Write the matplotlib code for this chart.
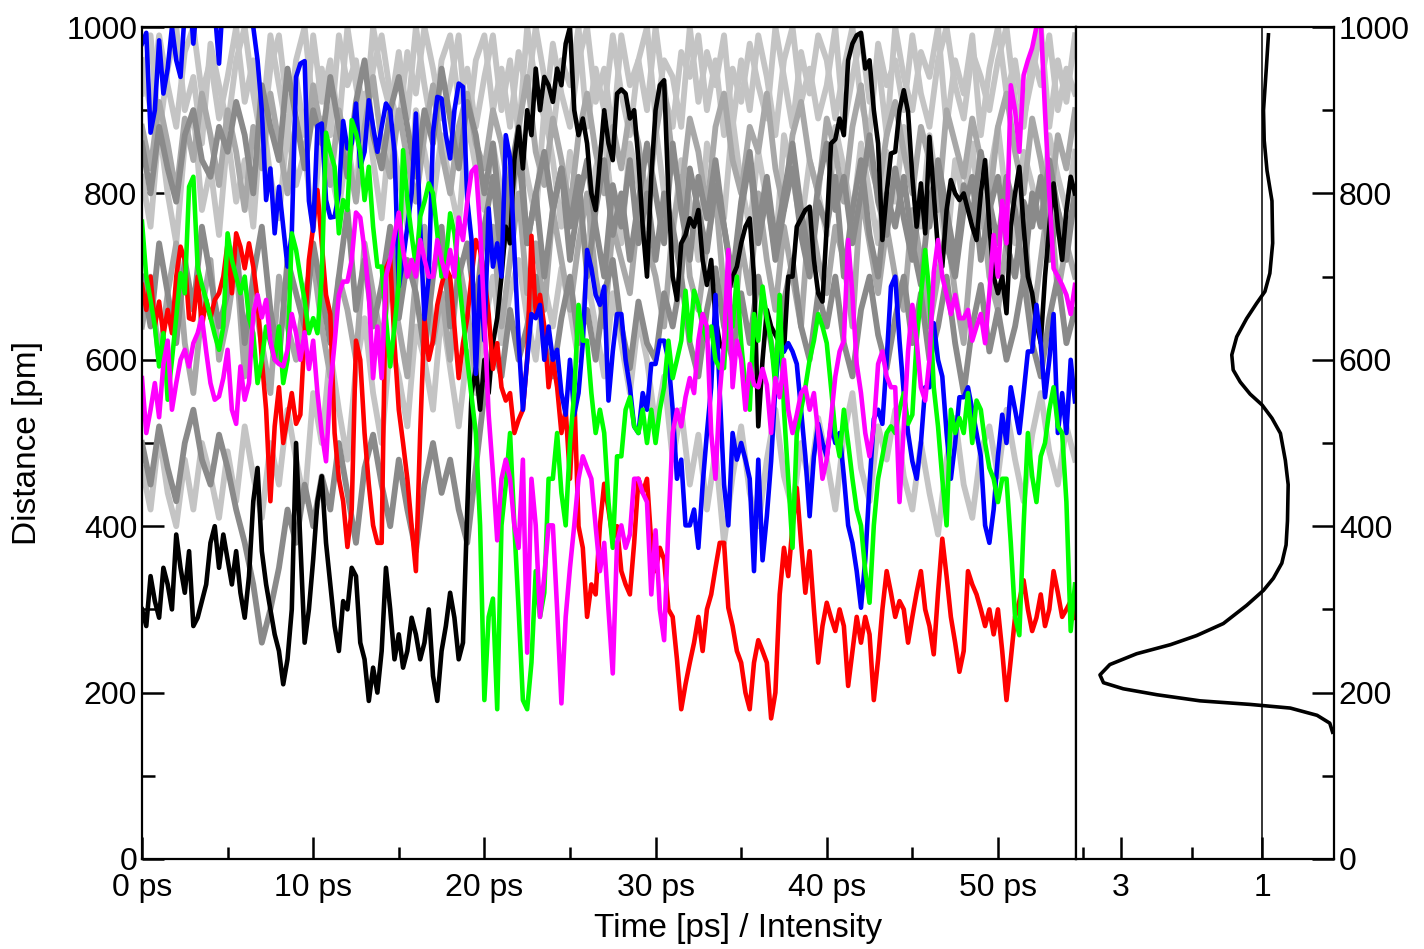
import numpy as np
import matplotlib
matplotlib.use("Agg")
import matplotlib.pyplot as plt
from matplotlib.ticker import MultipleLocator, FixedLocator

plt.rcParams['font.family'] = ['Liberation Sans', 'DejaVu Sans']

# time grid of the coloured traces (ps), 0.25 ps steps
t_fine = np.arange(219) * 0.25
# time grid of the grey traces (ps), 0.5 ps steps
t_coarse = np.arange(110) * 0.5

black = [300, 280, 340, 310, 290, 350, 330, 300,
         390, 350, 320, 370, 280, 290, 310, 330,
         380, 400, 350, 390, 360, 330, 370, 320,
         290, 340, 430, 470, 370, 330, 300, 270,
         250, 210, 240, 300, 500, 380, 260, 300,
         360, 430, 460, 380, 330, 280, 250, 310,
         300, 350, 340, 260, 240, 190, 230, 200,
         250, 350, 300, 240, 270, 230, 250, 290,
         270, 240, 260, 300, 220, 190, 250, 280,
         320, 290, 240, 260, 420, 560, 590, 540,
         600, 560, 620, 650, 700, 760, 740, 840,
         880, 830, 900, 870, 950, 900, 940, 930,
         910, 950, 930, 980, 1000, 900, 870, 890,
         860, 800, 780, 840, 900, 860, 840, 920,
         925, 920, 890, 900, 840, 760, 700, 820,
         900, 930, 936, 800, 700, 672, 740, 750,
         770, 760, 780, 720, 690, 720, 650, 620,
         612, 680, 700, 712, 740, 760, 770, 700,
         520, 600, 660, 640, 630, 620, 610, 700,
         700, 760, 770, 780, 784, 720, 680, 670,
         760, 860, 865, 890, 870, 960, 980, 990,
         993, 950, 960, 900, 860, 744, 800, 848,
         850, 900, 924, 898, 820, 760, 812, 752,
         868, 800, 732, 712, 780, 816, 800, 792,
         800, 780, 760, 744, 800, 840, 760, 700,
         680, 700, 656, 760, 800, 832, 760, 700,
         680, 644, 620, 700, 760, 812, 760, 720,
         780, 820, 800]

red = [690, 660, 700, 640, 670, 630, 660, 632,
       700, 736, 720, 650, 648, 700, 640, 672,
       650, 672, 680, 700, 740, 680, 752, 736,
       710, 740, 712, 672, 600, 540, 430, 520,
       567, 500, 530, 560, 523, 534, 633, 720,
       760, 804, 740, 678, 655, 512, 457, 430,
       375, 420, 623, 600, 512, 450, 401, 380,
       380, 710, 721, 620, 540, 500, 457, 400,
       346, 512, 650, 600, 623, 666, 690, 710,
       700, 640, 578, 620, 650, 700, 744, 732,
       700, 655, 589, 620, 567, 551, 560, 512,
       528, 540, 600, 749, 655, 678, 640, 567,
       600, 567, 512, 540, 457, 560, 400, 374,
       291, 330, 318, 401, 451, 420, 385, 400,
       346, 330, 318, 380, 457, 440, 457, 380,
       346, 374, 360, 300, 291, 240, 180, 210,
       236, 260, 291, 250, 300, 318, 350, 380,
       380, 302, 280, 250, 236, 200, 180, 236,
       263, 250, 236, 169, 200, 318, 374, 340,
       400, 446, 380, 320, 370, 300, 236, 280,
       308, 290, 274, 300, 280, 208, 250, 291,
       260, 291, 270, 191, 240, 300, 346, 320,
       291, 310, 300, 260, 291, 320, 346, 300,
       280, 246, 320, 385, 340, 291, 260, 225,
       250, 346, 330, 318, 300, 280, 300, 270,
       300, 250, 191, 240, 291, 310, 335, 300,
       274, 290, 318, 280, 300, 346, 320, 291,
       300, 310, 290]

blue = [980, 993, 873, 900, 984, 920, 950, 1000,
        960, 940, 1020, 1050, 980, 1040, 1060, 1030,
        1050, 1020, 956, 1040, 1070, 1060, 1040, 1050,
        1060, 1040, 1000, 960, 900, 792, 830, 752,
        808, 760, 712, 752, 940, 956, 959, 791,
        755, 881, 884, 792, 771, 772, 800, 887,
        854, 860, 908, 832, 850, 912, 880, 850,
        880, 908, 900, 850, 688, 720, 760, 800,
        896, 760, 649, 700, 873, 916, 914, 870,
        842, 900, 932, 928, 792, 744, 583, 700,
        623, 782, 712, 740, 700, 870, 842, 732,
        623, 540, 600, 655, 650, 666, 600, 640,
        600, 612, 560, 534, 600, 534, 560, 620,
        732, 710, 678, 666, 688, 551, 610, 655,
        655, 600, 567, 520, 512, 560, 540, 595,
        595, 623, 623, 600, 540, 457, 480, 401,
        401, 420, 374, 450, 512, 567, 678, 560,
        450, 401, 512, 480, 500, 480, 457, 346,
        480, 359, 412, 478, 567, 623, 610, 620,
        610, 595, 540, 484, 412, 484, 523, 500,
        484, 523, 500, 512, 460, 401, 380, 346,
        302, 360, 450, 529, 540, 523, 600, 688,
        700, 623, 560, 512, 478, 457, 500, 567,
        567, 644, 600, 580, 512, 457, 500, 555,
        555, 567, 540, 512, 484, 401, 380, 420,
        484, 534, 500, 567, 540, 512, 560, 610,
        610, 666, 620, 555, 600, 655, 512, 560,
        512, 600, 550]

green = [766, 700, 672, 640, 592, 632, 552, 600,
         651, 704, 680, 808, 820, 712, 690, 672,
         651, 630, 612, 640, 752, 720, 700, 680,
         700, 650, 632, 572, 600, 640, 620, 600,
         640, 572, 600, 752, 732, 700, 672, 632,
         650, 632, 700, 873, 850, 832, 752, 792,
         780, 888, 873, 850, 792, 832, 760, 712,
         712, 650, 592, 640, 692, 852, 792, 750,
         712, 772, 790, 812, 800, 752, 700, 720,
         776, 752, 700, 651, 600, 556, 512, 401,
         191, 291, 313, 180, 401, 450, 512, 401,
         300, 191, 180, 236, 346, 291, 320, 457,
         457, 512, 440, 401, 500, 560, 666, 623,
         623, 560, 512, 540, 512, 429, 374, 484,
         484, 540, 555, 520, 512, 540, 500, 540,
         500, 540, 567, 623, 578, 600, 623, 683,
         623, 683, 666, 640, 623, 640, 600, 590,
         590, 680, 640, 700, 620, 567, 540, 655,
         623, 688, 650, 623, 567, 678, 540, 457,
         374, 512, 540, 567, 600, 623, 655, 640,
         620, 567, 512, 484, 540, 500, 457, 420,
         401, 346, 308, 401, 457, 484, 512, 520,
         512, 540, 560, 523, 534, 623, 678, 732,
         678, 567, 520, 457, 401, 540, 512, 530,
         512, 560, 500, 551, 540, 500, 470, 457,
         429, 457, 457, 380, 291, 269, 401, 512,
         460, 429, 484, 500, 540, 567, 520, 512,
         429, 274, 330]

magenta = [578, 512, 540, 572, 531, 595, 623, 540,
           572, 600, 612, 592, 620, 632, 651, 610,
           572, 552, 556, 578, 612, 540, 523, 592,
           552, 572, 655, 678, 651, 672, 623, 600,
           595, 592, 612, 655, 632, 600, 633, 589,
           623, 560, 512, 478, 567, 620, 678, 694,
           694, 720, 777, 771, 732, 678, 578, 640,
           578, 700, 721, 750, 777, 732, 700, 720,
           700, 744, 721, 700, 700, 744, 720, 700,
           732, 700, 771, 744, 790, 826, 832, 760,
           650, 534, 464, 383, 457, 480, 457, 401,
           374, 480, 248, 457, 401, 291, 340, 401,
           401, 300, 187, 291, 350, 401, 457, 484,
           470, 457, 400, 346, 380, 300, 223, 380,
           401, 374, 390, 457, 457, 440, 429, 318,
           395, 300, 263, 400, 512, 540, 520, 555,
           578, 560, 623, 655, 640, 512, 457, 560,
           620, 732, 567, 623, 600, 540, 595, 570,
           567, 589, 570, 512, 578, 555, 600, 540,
           512, 534, 560, 567, 540, 560, 512, 457,
           480, 529, 580, 610, 623, 744, 678, 595,
           560, 512, 484, 520, 595, 610, 580, 567,
           567, 429, 520, 610, 666, 623, 567, 551,
           600, 705, 744, 700, 678, 655, 678, 650,
           650, 660, 623, 640, 655, 620, 680, 750,
           700, 791, 740, 930, 900, 850, 942, 960,
           975, 1000, 1010, 898, 799, 710, 700, 690,
           678, 655, 690]

grey_light_top = [960, 900, 990, 930, 880, 970, 1000, 920, 960, 890,
                  940, 1000, 910, 960, 880, 990, 930, 870, 960, 1000,
                  900, 950, 870, 990, 930, 960, 880, 1000, 940, 900,
                  970, 890, 1000, 930, 870, 960, 990, 910, 950, 880,
                  940, 990, 900, 960, 870, 1000, 930, 890, 980, 920,
                  880, 960, 1000, 910, 950, 870, 990, 930, 960, 900,
                  1000, 920, 880, 970, 940, 990, 900, 960, 870, 950,
                  910, 980, 930, 890, 1000, 940, 880, 970, 920, 990,
                  960, 890, 950, 1000, 910, 870, 980, 930, 960, 900,
                  990, 920, 880, 960, 1000, 930, 890, 970, 940, 900,
                  960, 1000, 910, 880, 970, 930, 990, 900, 950, 920]

grey_light_top2 = [920, 990, 870, 950, 1000, 900, 940, 860, 980, 930,
                   880, 960, 1000, 920, 860, 950, 990, 900, 940, 870,
                   990, 910, 960, 880, 1000, 930, 870, 950, 990, 920,
                   880, 970, 920, 1000, 950, 890, 930, 990, 870, 960,
                   990, 900, 950, 880, 970, 920, 1000, 940, 870, 960,
                   930, 1000, 880, 950, 900, 990, 920, 870, 960, 1000,
                   890, 960, 940, 880, 1000, 910, 970, 930, 990, 880,
                   960, 900, 990, 940, 870, 960, 1000, 910, 950, 890,
                   930, 1000, 880, 940, 990, 910, 960, 870, 1000, 940,
                   900, 970, 940, 1000, 880, 960, 920, 990, 870, 950,
                   1000, 920, 960, 890, 940, 1000, 880, 960, 910, 990]

grey_light_mid = [820, 760, 880, 800, 740, 860, 900, 780, 830, 750,
                  870, 790, 840, 760, 900, 820, 770, 880, 810, 850,
                  760, 890, 830, 780, 860, 800, 920, 840, 770, 880,
                  820, 760, 900, 850, 790, 870, 810, 760, 890, 830,
                  780, 860, 800, 740, 880, 820, 770, 900, 840, 760,
                  850, 790, 720, 830, 870, 780, 740, 860, 810, 760,
                  880, 800, 750, 840, 790, 720, 860, 820, 770, 890,
                  810, 760, 850, 790, 730, 870, 820, 760, 840, 800,
                  750, 880, 830, 770, 860, 800, 740, 850, 790, 880,
                  820, 760, 870, 800, 730, 840, 790, 860, 760, 820,
                  880, 790, 740, 850, 810, 760, 870, 820, 780, 850]

grey_light_low = [470, 420, 510, 440, 400, 480, 420, 500, 460, 410,
                  490, 430, 520, 460, 410, 500, 450, 540, 480, 430,
                  560, 500, 610, 540, 480, 590, 650, 560, 500, 620,
                  580, 520, 640, 600, 540, 660, 590, 520, 610, 560,
                  640, 700, 620, 680, 720, 650, 600, 690, 640, 710,
                  660, 600, 700, 640, 580, 680, 620, 560, 650, 600,
                  520, 580, 480, 540, 450, 510, 420, 490, 380, 460,
                  520, 440, 400, 480, 540, 460, 420, 500, 450, 530,
                  480, 420, 510, 560, 470, 430, 520, 480, 540, 460,
                  420, 500, 440, 390, 480, 530, 450, 410, 490, 520,
                  460, 540, 480, 430, 510, 560, 490, 450, 520, 480]

grey_mid = [880, 830, 910, 860, 800, 890, 840, 920, 870, 810,
            900, 850, 780, 880, 830, 920, 860, 800, 890, 840,
            930, 870, 810, 900, 850, 790, 880, 940, 860, 820,
            900, 840, 790, 870, 930, 850, 800, 880, 920, 860,
            830, 900, 860, 790, 880, 940, 850, 810, 890, 840,
            780, 870, 920, 850, 800, 880, 830, 900, 860, 790,
            870, 930, 840, 800, 890, 850, 780, 880, 920, 840,
            800, 880, 850, 920, 830, 780, 870, 910, 840, 800,
            890, 850, 790, 880, 930, 840, 800, 870, 910, 850,
            800, 880, 840, 780, 900, 860, 820, 890, 840, 790,
            880, 920, 850, 800, 890, 840, 780, 870, 830, 900]

grey_mid2 = [640, 700, 600, 680, 740, 620, 560, 660, 720, 600,
             650, 720, 580, 680, 620, 560, 700, 640, 600, 680,
             720, 640, 580, 700, 660, 600, 740, 680, 620, 700,
             640, 580, 700, 760, 620, 680, 600, 720, 660, 580,
             700, 760, 640, 720, 800, 680, 740, 660, 780, 720,
             660, 740, 800, 700, 640, 760, 720, 680, 780, 740,
             700, 640, 760, 820, 700, 660, 740, 800, 680, 620,
             740, 680, 800, 720, 660, 760, 700, 640, 780, 720,
             680, 760, 720, 640, 800, 740, 680, 760, 700, 660,
             780, 720, 640, 700, 760, 680, 620, 740, 800, 700,
             660, 740, 700, 780, 640, 720, 800, 680, 740, 700]

grey_dark_top = [860, 800, 880, 830, 790, 870, 900, 840, 820, 880,
                 850, 910, 870, 800, 930, 880, 840, 950, 890, 830,
                 900, 860, 940, 880, 820, 910, 960, 870, 830, 900,
                 940, 880, 820, 900, 860, 950, 890, 830, 910, 870,
                 800, 860, 760, 820, 880, 740, 800, 850, 780, 830,
                 760, 820, 700, 780, 840, 750, 800, 720, 790, 860,
                 800, 740, 860, 780, 720, 820, 770, 840, 760, 700,
                 790, 850, 760, 820, 740, 800, 860, 780, 720, 810,
                 860, 780, 820, 740, 800, 870, 790, 750, 830, 770,
                 720, 800, 760, 840, 780, 720, 810, 770, 850, 790,
                 740, 820, 780, 700, 800, 760, 840, 780, 720, 800]

grey_dark_low = [500, 450, 520, 470, 430, 500, 540, 480, 450, 510,
                 470, 420, 380, 330, 260, 300, 350, 420, 380, 450,
                 400, 460, 420, 500, 440, 380, 470, 510, 450, 400,
                 480, 420, 370, 450, 500, 440, 480, 420, 380, 470,
                 560, 620, 580, 660, 600, 640, 700, 620, 580, 650,
                 700, 620, 660, 600, 680, 720, 640, 590, 670, 620,
                 600, 680, 640, 700, 620, 580, 660, 710, 640, 600,
                 680, 620, 700, 650, 590, 670, 720, 640, 600, 680,
                 640, 700, 620, 580, 660, 700, 630, 590, 650, 700,
                 620, 680, 600, 640, 700, 620, 560, 640, 690, 610,
                 660, 600, 640, 700, 620, 580, 650, 700, 620, 660]

grey_dark_mid = [700, 640, 740, 680, 620, 720, 660, 760, 700, 640,
                 680, 740, 620, 700, 760, 660, 600, 720, 680, 640,
                 740, 680, 620, 700, 780, 660, 720, 640, 690, 760,
                 650, 720, 680, 610, 700, 760, 640, 700, 740, 660,
                 760, 820, 720, 790, 850, 740, 800, 700, 780, 830,
                 720, 790, 840, 760, 700, 810, 760, 840, 740, 800,
                 720, 800, 760, 700, 830, 780, 730, 810, 760, 690,
                 780, 840, 740, 800, 720, 780, 830, 750, 700, 790,
                 760, 820, 700, 780, 840, 750, 700, 800, 760, 820,
                 740, 690, 790, 830, 740, 700, 780, 820, 720, 780,
                 820, 740, 700, 790, 760, 820, 720, 780, 740, 800]

# distribution on the right panel
dist_curve = [990.6, 950.7, 899.9, 863.6, 827.3, 791.0, 740.2, 703.9, 682.1,
              667.6, 649.5, 627.7, 605.9, 587.8, 573.3, 558.8, 545.7, 529.8,
              511.6, 479.0, 449.9, 406.4, 377.4, 355.6, 337.4, 322.9, 304.8,
              283.0, 268.5, 257.6, 246.7, 233.7, 221.3, 211.9, 204.6, 197.4,
              190.1, 185.8, 181.4, 172.7, 163.3, 152.4]
intensity = [0.91, 0.94, 0.98, 0.97, 0.93, 0.86, 0.85, 0.89, 0.96, 1.08,
             1.22, 1.36, 1.43, 1.41, 1.31, 1.17, 1.0, 0.86, 0.74, 0.67,
             0.63, 0.64, 0.66, 0.72, 0.84, 0.98, 1.22, 1.55, 1.93, 2.30,
             2.78, 3.16, 3.30, 3.25, 2.97, 2.49, 1.88, 1.17, 0.60, 0.22,
             0.04, 0.0]

fig = plt.figure(figsize=(14.24, 9.49), dpi=100)
ax = fig.add_axes([142 / 1424, 90 / 949, 934 / 1424, 832 / 949])
ax2 = fig.add_axes([1076 / 1424, 90 / 949, 258 / 1424, 832 / 949])

light, mid, dark = '#c4c4c4', '#a8a8a8', '#8a8a8a'
greys = [(grey_light_top, light), (grey_light_top2, light),
         (grey_light_mid, light), (grey_light_low, light),
         (grey_mid, mid), (grey_mid2, mid),
         (grey_dark_top, dark), (grey_dark_mid, dark), (grey_dark_low, dark)]
for vals, col in greys:
    ax.plot(t_coarse, vals, color=col, lw=4.2)

for vals, col in [(black, 'black'), (red, '#ff0000'), (blue, '#0000ff'),
                  (green, '#00ff00'), (magenta, '#ff00ff')]:
    ax.plot(t_fine, vals, color=col, lw=3.3)

ax.set_xlim(0, 54.56)
ax.set_ylim(0, 1000)
ax.set_xticks([0, 10, 20, 30, 40, 50])
ax.set_xticklabels(['0 ps', '10 ps', '20 ps', '30 ps', '40 ps', '50 ps'])
ax.xaxis.set_minor_locator(MultipleLocator(5))
ax.yaxis.set_major_locator(MultipleLocator(200))
ax.yaxis.set_minor_locator(MultipleLocator(100))
ax.tick_params(axis='x', which='major', pad=10)
ax.tick_params(which='major', direction='in', length=16, width=1.8,
               labelsize=23, top=False, right=False)
ax.tick_params(which='minor', direction='in', length=9, width=1.8,
               top=False, right=False)
for s in ax.spines.values():
    s.set_linewidth(1.6)

ax2.plot(intensity, dist_curve, color='black', lw=2.6)
ax2.axvline(1, color='black', lw=1.1)
ax2.set_xlim(3.64, -0.02)
ax2.set_ylim(0, 1000)
ax2.xaxis.set_major_locator(FixedLocator([3, 1]))
ax2.xaxis.set_minor_locator(FixedLocator([3.54, 2]))
ax2.set_xticklabels(['3', '1'])
ax2.yaxis.tick_right()
ax2.yaxis.set_major_locator(MultipleLocator(200))
ax2.yaxis.set_minor_locator(MultipleLocator(100))
ax2.tick_params(axis='x', which='major', pad=10)
ax2.tick_params(which='major', direction='in', length=16, width=1.8,
                labelsize=23, top=False, left=False)
ax2.tick_params(which='minor', direction='in', length=9, width=1.8,
                top=False, left=False)
for s in ax2.spines.values():
    s.set_linewidth(1.6)

fig.text(28 / 1424, 1 - 443 / 949, 'Distance [pm]', rotation=90,
         ha='center', va='center', fontsize=24)
fig.text(738 / 1424, 1 - 928 / 949, 'Time [ps] / Intensity',
         ha='center', va='center', fontsize=24)

fig.savefig('out.png', dpi=100)
